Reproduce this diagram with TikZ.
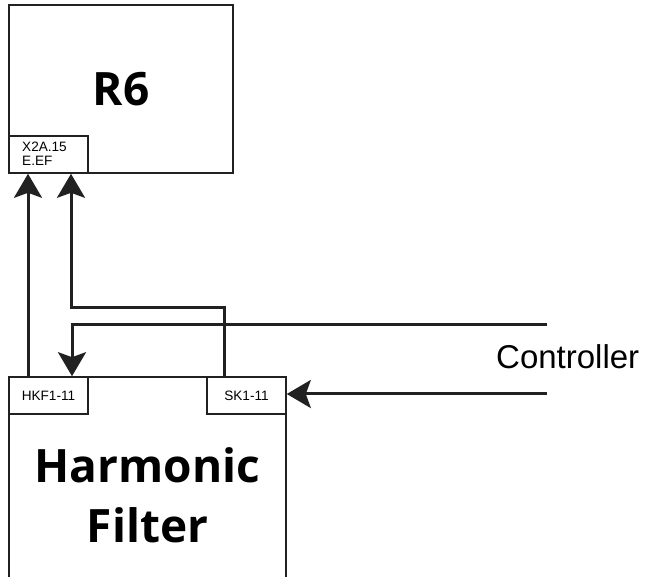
\documentclass[tikz,border=0pt]{standalone}
\usepackage{fontspec}
\setmainfont{Liberation Sans}
\newfontfamily\headfont{Open Sans}
\usetikzlibrary{arrows.meta}
\definecolor{linecol}{gray}{0.13}
\begin{document}
\begin{tikzpicture}[x=1pt,y=-1pt,
  box/.style={draw=linecol, line width=1.6pt, inner sep=0pt},
  conn/.style={draw=linecol, line width=3pt, -{Stealth[length=24pt,width=28pt,inset=5pt]}},
  small/.style={font=\fontsize{13.6}{14}\selectfont, inner sep=0pt},
  big/.style={font=\headfont\bfseries\fontsize{46}{60}\selectfont, inner sep=0pt},
  ctrltext/.style={font=\fontsize{33}{36}\selectfont, inner sep=0pt}]
\useasboundingbox (0,0) rectangle (646,577);
% R6 block
\node[box, big, minimum width=224pt, minimum height=168pt] (r6) at (121,89) {R6};
\node[box, fill=white, minimum width=79pt, minimum height=37pt] (x2a) at (48.5,154.5) {};
\node[small, anchor=base west] (x2al1) at (22,152) {X2A.15};
\node[small, anchor=base west] (x2al2) at (22,166) {E.EF};
% Harmonic filter block (open at bottom)
\node[minimum width=277pt, minimum height=210pt, inner sep=0pt] (hf) at (147.5,482) {};
\draw[box] (hf.south west) -- (hf.north west) -- (hf.north east) -- (hf.south east);
\node[big, anchor=base] (hft1) at (147.5,483) {Harmonic};
\node[big, anchor=base] (hft2) at (147.5,543) {Filter};
\node[box, small, minimum width=79pt, minimum height=37pt] (hkf) at (48.5,395.5) {HKF1-11};
\node[box, small, minimum width=79pt, minimum height=37pt] (sk) at (246.5,395.5) {SK1-11};
% Controller
\node[ctrltext, anchor=base west] (ctrl) at (496,369) {Controller};
% helper coordinates
\coordinate (xa) at (28,0);
\coordinate (xb) at (224,0);
\coordinate (bend2) at (71,308);
\coordinate (xd) at (72,0);
\coordinate (c1) at (547,325);
\coordinate (c2) at (547,394);
% connectors
\draw[conn] (hkf.north -| xa) -- (x2a.south -| xa);
\draw[conn] (sk.north -| xb) |- (bend2) -- (x2a.south -| bend2);
\draw[conn] (c1) -| (hkf.north -| xd);
\draw[conn] (c2) -- (sk.east |- c2);
\end{tikzpicture}
\end{document}
